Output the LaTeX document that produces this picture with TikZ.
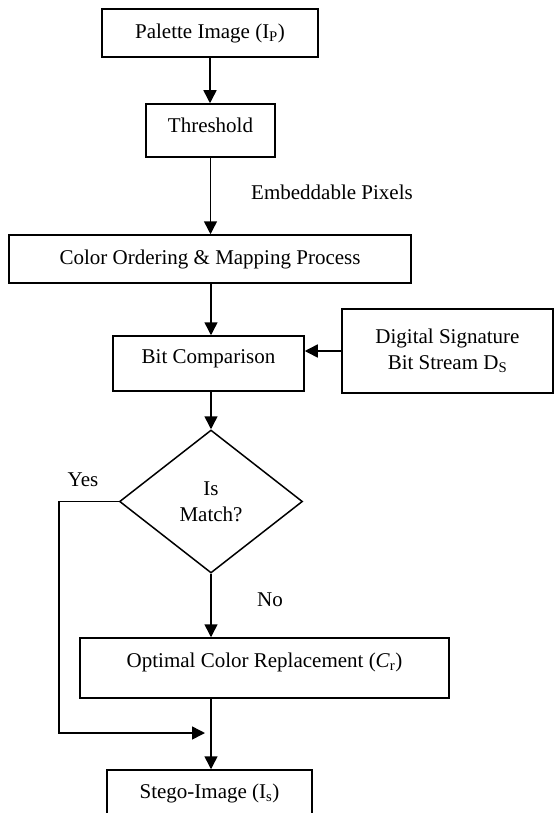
\documentclass[tikz,border=0pt]{standalone}
\usepackage{fontspec}
\setmainfont{Liberation Serif}
\usetikzlibrary{arrows.meta,shapes.geometric}
\begin{document}
\begin{tikzpicture}[x=1pt,y=-1pt, line width=1.5pt,
  txt/.style={font=\fontsize{21}{26}\selectfont},
  box/.style={draw, rectangle, inner sep=0pt, align=center, txt},
  lbl/.style={inner sep=0pt, txt},
  arr/.style={-{Triangle[length=13pt,width=13pt]}}]
\clip (0,0) rectangle (555,813);
\fill[white] (0,0) rectangle (555,813);
\node[box, minimum width=216pt, minimum height=48pt] (pal) at (210,33) {Palette Image (I\textsubscript{P})};
\node[box, minimum width=129pt, minimum height=53pt, text depth=10pt] (thr) at (210.5,130.5) {Threshold};
\node[box, minimum width=402pt, minimum height=48pt] (col) at (210,259) {Color Ordering \& Mapping Process};
\node[box, minimum width=191pt, minimum height=55pt, text depth=14pt] (bit) at (208.5,363.5) {Bit Comparison};
\node[box, minimum width=211pt, minimum height=84pt] (ds) at (447.5,351) {Digital Signature\\Bit Stream D\textsubscript{S}};
\node[draw, diamond, aspect=1.28, inner sep=0pt, minimum width=183pt, minimum height=143pt, align=center, txt] (dia) at (211,501.5) {Is\\Match?};
\node[box, minimum width=369pt, minimum height=60pt, text depth=16pt] (opt) at (264.5,668) {Optimal Color Replacement (\textit{C}\textsubscript{r})};
\node[box, minimum width=205pt, minimum height=46pt] (ste) at (209.5,793) {Stego-Image (I\textsubscript{s})};
\node[lbl] (emb) at (332,192) {Embeddable Pixels};
\node[lbl] (yes) at (83,480) {Yes};
\node[lbl] (no) at (270,600) {No};
\coordinate (yesend) at (205,733);
\draw[arr] (pal.south) -- (pal.south |- thr.north);
\draw[arr] (thr.south) -- (thr.south |- col.north);
\draw[arr] (dia.north |- col.south) -- (dia.north |- bit.north);
\draw[arr] (dia.north |- bit.south) -- (dia.north);
\draw[arr] (ds.west) -- (bit.east |- ds.west);
\draw[arr] (dia.south) -- (dia.south |- opt.north);
\draw[arr] (dia.south |- opt.south) -- (dia.south |- ste.north);
\draw[arr] (dia.west) -- ++(-60,0) |- (yesend);
\end{tikzpicture}
\end{document}
